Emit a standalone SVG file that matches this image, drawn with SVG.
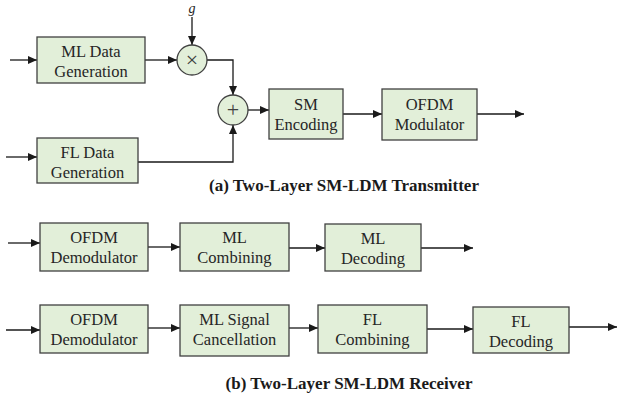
<svg xmlns="http://www.w3.org/2000/svg" width="618" height="403" viewBox="0 0 618 403">
<defs>
<marker id="ah" markerUnits="userSpaceOnUse" markerWidth="9" markerHeight="8" refX="9" refY="4" orient="auto">
<path d="M0,0 L9,4 L0,8 z" fill="#1a1a1a"/>
</marker>
<style>
.box{fill:#e2efd9;stroke:#404040;stroke-width:1.3}
.t{font-family:"Liberation Serif","Times New Roman",serif;font-size:16.5px;fill:#262626;text-anchor:middle}
.cap{font-family:"Liberation Serif","Times New Roman",serif;font-size:17px;font-weight:bold;fill:#1a1a1a;text-anchor:middle}
.c{fill:none;stroke:#1a1a1a;stroke-width:1.3;marker-end:url(#ah)}
.sym{font-family:"Liberation Serif","Times New Roman",serif;font-size:22px;fill:#404040;text-anchor:middle}
</style>
</defs>
<g id="connectors">
<path class="c" d="M10,60 H37"/>
<path class="c" d="M6,157 H37"/>
<path class="c" d="M145,60 H177"/>
<path class="c" d="M192,17 V45"/>
<path class="c" d="M207,60 H233 V95"/>
<path class="c" d="M138,162 H233 V125"/>
<path class="c" d="M248,110 H269"/>
<path class="c" d="M343,114 H382"/>
<path class="c" d="M477,114 H524"/>
<path class="c" d="M8,243 H40"/>
<path class="c" d="M148,247 H180"/>
<path class="c" d="M289,248 H325"/>
<path class="c" d="M421,248 H473"/>
<path class="c" d="M6,330 H40"/>
<path class="c" d="M148,328 H180"/>
<path class="c" d="M289,328 H318"/>
<path class="c" d="M427,329 H473"/>
<path class="c" d="M569,327 H617"/>
</g>
<g id="g-label"><text x="192" y="12.5" class="t" style="font-style:italic;font-size:14px">g</text></g>
<g id="ml-gen"><rect class="box" x="37" y="37" width="108" height="46"/><text class="t" x="91" y="57">ML Data</text><text class="t" x="91" y="77">Generation</text></g>
<g id="fl-gen"><rect class="box" x="37" y="138" width="101" height="45"/><text class="t" x="87.5" y="158">FL Data</text><text class="t" x="87.5" y="178">Generation</text></g>
<g id="mult"><circle class="box" cx="192" cy="60" r="15"/><text class="sym" x="192" y="67">×</text></g>
<g id="add"><circle class="box" cx="233" cy="110" r="15"/><text class="sym" x="233" y="117">+</text></g>
<g id="sm-enc"><rect class="box" x="269" y="89" width="74" height="50"/><text class="t" x="306" y="110">SM</text><text class="t" x="306" y="130">Encoding</text></g>
<g id="ofdm-mod"><rect class="box" x="382" y="89" width="95" height="51"/><text class="t" x="429.5" y="110">OFDM</text><text class="t" x="429.5" y="130">Modulator</text></g>
<g id="cap-a"><text class="cap" x="344" y="191">(a) Two-Layer SM-LDM Transmitter</text></g>
<g id="ofdm-demod1"><rect class="box" x="40" y="223" width="108" height="48"/><text class="t" x="94" y="243">OFDM</text><text class="t" x="94" y="263">Demodulator</text></g>
<g id="ml-comb"><rect class="box" x="180" y="223" width="109" height="48"/><text class="t" x="234.5" y="243">ML</text><text class="t" x="234.5" y="263">Combining</text></g>
<g id="ml-dec"><rect class="box" x="325" y="224" width="96" height="47"/><text class="t" x="373" y="244">ML</text><text class="t" x="373" y="264">Decoding</text></g>
<g id="ofdm-demod2"><rect class="box" x="40" y="305" width="108" height="48"/><text class="t" x="94" y="325">OFDM</text><text class="t" x="94" y="345">Demodulator</text></g>
<g id="ml-cancel"><rect class="box" x="180" y="305" width="109" height="51"/><text class="t" x="234.5" y="325">ML Signal</text><text class="t" x="234.5" y="345">Cancellation</text></g>
<g id="fl-comb"><rect class="box" x="318" y="305" width="109" height="48"/><text class="t" x="372.5" y="325">FL</text><text class="t" x="372.5" y="345">Combining</text></g>
<g id="fl-dec"><rect class="box" x="473" y="307" width="96" height="46"/><text class="t" x="521" y="327">FL</text><text class="t" x="521" y="347">Decoding</text></g>
<g id="cap-b"><text class="cap" x="349" y="389">(b) Two-Layer SM-LDM Receiver</text></g>
</svg>
